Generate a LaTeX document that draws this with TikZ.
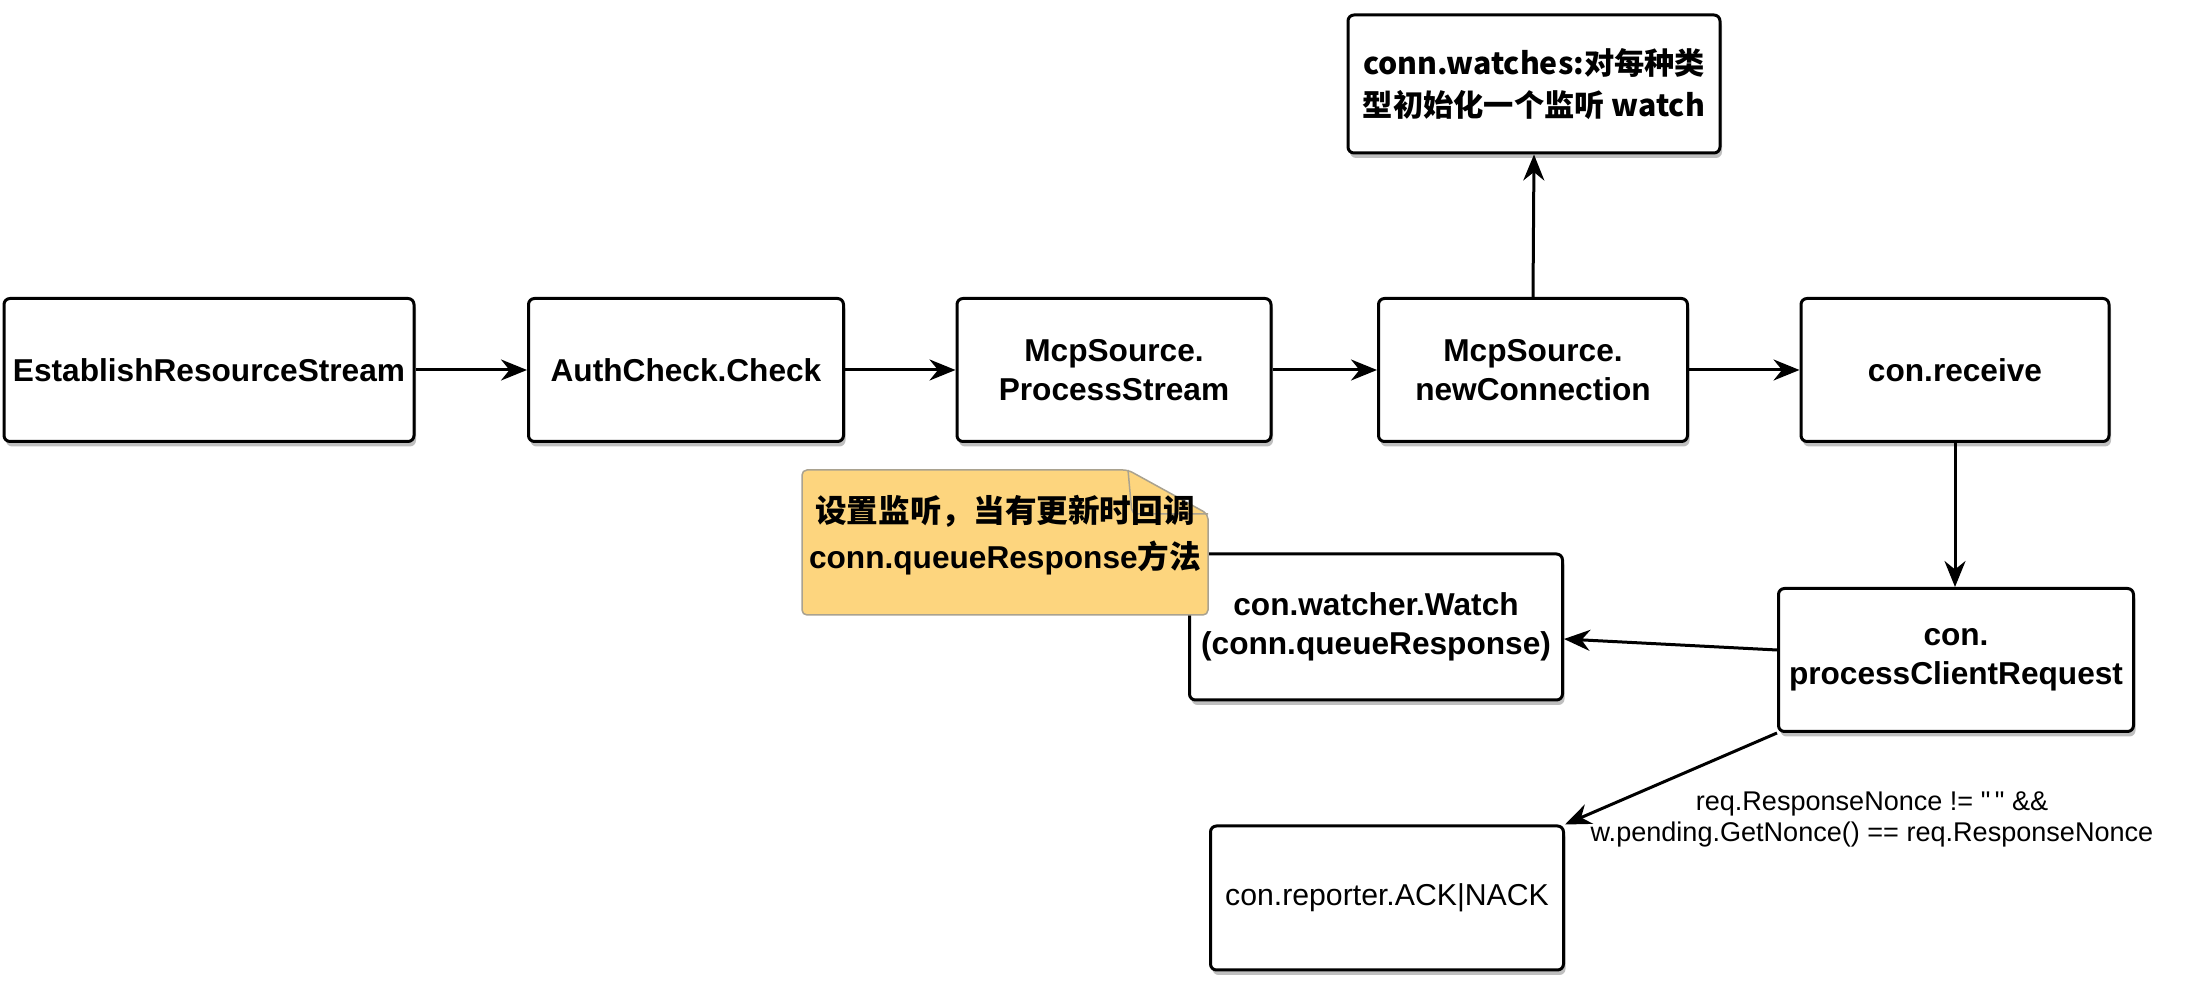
\documentclass[tikz,border=0pt]{standalone}
\usepackage{fontspec}
\setmainfont{Liberation Sans}
\newfontfamily\cjk{Noto Sans CJK SC}
\newfontfamily\condfont[Ligatures=TeXOff]{Liberation Sans}
\usepackage{tikz}
\usetikzlibrary{
    positioning,
    arrows.meta,
    shadows
}
\definecolor{notefill}{HTML}{FDD57E}
\definecolor{noteline}{HTML}{A9A290}

\begin{document}
\begin{tikzpicture}[
      x=0.1mm, y=-0.1mm,
      box/.style={draw, line width=0.3mm, rounded corners=0.6mm, fill=white, align=center,
        minimum height=14.3mm, inner sep=0pt,
        drop shadow={shadow xshift=0.2mm, shadow yshift=-0.5mm, opacity=0.25, fill=black},
        font=\bfseries\fontsize{9}{11.1}\selectfont},
      plainbox/.style={box, font=\fontsize{8.6}{11}\selectfont},
      cjkbox/.style={box, font=\cjk\bfseries\fontsize{8.6}{11.9}\selectfont},
      notetext/.style={align=center, inner sep=0pt, font=\bfseries\fontsize{9}{13}\selectfont},
      cond/.style={align=center, inner sep=0pt, font=\condfont\fontsize{7.7}{8.8}\selectfont},
      arrow/.style={-{Stealth[length=2.6mm, width=2.1mm]}, line width=0.3mm}
    ]
    \useasboundingbox (0,0) rectangle (2188,990);

    \node[box, minimum width=41mm] (ers) at (209,370) {EstablishResourceStream};
    \node[box, minimum width=31.5mm] (auth) at (686,370) {AuthCheck.Check};
    \node[box, minimum width=31.4mm] (stream) at (1114,370) {McpSource.\\ProcessStream};
    \node[box, minimum width=30.9mm] (newconn) at (1533,370) {McpSource.\\newConnection};
    \node[box, minimum width=30.8mm] (recv) at (1955,370) {con.receive};
    \node[cjkbox, minimum width=37.2mm, minimum height=13.8mm] (watches) at (1534,84)
      {conn.watches:对每种类\\型初始化一个监听 watch};
    \node[box, minimum width=37.3mm, minimum height=14.6mm] (watcher) at (1376,627)
      {con.watcher.Watch\\(conn.queueResponse)};
    \node[box, minimum width=35.5mm] (request) at (1956,660) {con.\\processClientRequest};
    \node[plainbox, minimum width=35.3mm, minimum height=14.4mm] (reporter) at (1387,898)
      {con.reporter.ACK|NACK};

    \filldraw[fill=notefill, draw=noteline, line width=0.15mm, rounded corners=0.5mm]
      (802,470) -- (1128,470) -- (1208,514) -- (1208,615) -- (802,615) -- cycle;
    \draw[noteline, line width=0.15mm, rounded corners=0.5mm]
      (1128,470) -- (1132,514) -- (1208,514);
    \node[notetext] (note) at (1005,535)
      {{\cjk 设置监听，当有更新时回调}\\conn.queueResponse{\cjk 方法}};

    \draw[arrow] (ers) -- (auth);
    \draw[arrow] (auth) -- (stream);
    \draw[arrow] (stream) -- (newconn);
    \draw[arrow] (newconn) -- (recv);
    \draw[arrow] (newconn.north) -- (watches.south);
    \draw[arrow] (recv.south) -- (recv.south |- request.north);
    \draw[arrow] ([yshift=1mm]request.west) -- ([yshift=-1.2mm]watcher.east);
    \draw[arrow] (request.south west) -- (reporter.north east);

    \node[cond] (nonce) at (1872,819)
      {req.ResponseNonce != "\," \&\&\\w.pending.GetNonce() == req.ResponseNonce};
  \end{tikzpicture}
\end{document}
